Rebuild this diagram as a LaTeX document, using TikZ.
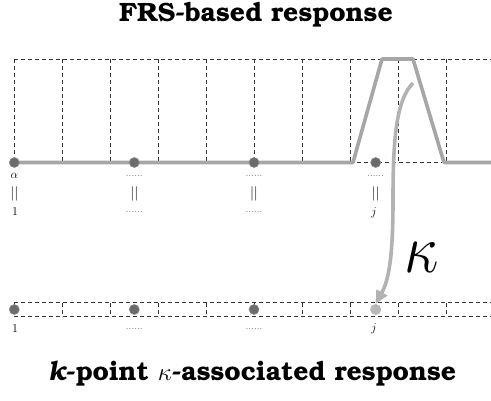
\documentclass[tikz,border=0pt]{standalone}
\usepackage[T1,TU]{fontenc}
\usetikzlibrary{arrows.meta}
\newcommand{\bkfont}{\fontencoding{T1}\fontfamily{pbk}\fontseries{b}\selectfont}
\newcommand{\sdots}{\textcolor{black!55}{\fontsize{10}{10}\selectfont......}}
\begin{document}
\begin{tikzpicture}[x=1pt,y=-1pt,
  gridline/.style={draw=black!80,line width=0.9pt,dash pattern=on 4pt off 3pt},
  resp/.style={draw=black!35,line width=3.6pt,line join=round},
  pdot/.style={circle,fill=black!58,draw=black!45,line width=0.6pt,minimum size=10pt,inner sep=0pt},
  ldot/.style={circle,fill=black!28,minimum size=11pt,inner sep=0pt},
  lbl/.style={inner sep=0pt,font=\fontsize{12}{12}\selectfont},
  bar/.style={inner sep=0pt,font=\fontsize{14}{14}\selectfont},
  ttl/.style={inner sep=0pt}]
\useasboundingbox (0,0) rectangle (491,400);
% titles
\node[ttl] (t1) at (256,15) {\bkfont\fontsize{26.5}{26.5}\selectfont FRS-based response};
\node[ttl] (t2) at (252,373) {\bkfont\fontsize{26.5}{26.5}\selectfont{\fontshape{it}\selectfont k}-point $\kappa$-associated response};
% top grid
\draw[gridline] (14.3,59) -- (491,59);
\draw[gridline] (14.3,162.5) -- (491,162.5);
\foreach \i in {0,...,9} {
  \draw[gridline] ({14.3+48.05*\i},59) -- ({14.3+48.05*\i},162.5);
}
% response line
\coordinate (r0) at (14.3,162.5);
\coordinate (r1) at (353,162.5);
\coordinate (r2) at (382,59);
\coordinate (r3) at (413,59);
\coordinate (r4) at (444,162.5);
\coordinate (r5) at (491,162.5);
\draw[resp] (r0) -- (r1) -- (r2) -- (r3) -- (r4) -- (r5);
% top dots
\node[pdot] (a) at (14.3,162.5) {};
\node[pdot] (b) at (134.3,162.5) {};
\node[pdot] (c) at (254,162.5) {};
\node[pdot] (d) at (375.7,162.5) {};
% top labels
\node[lbl] (la1) at (14.3,176) {$\alpha$};
\node[bar] (la2) at (14.3,194) {$||$};
\node[lbl] (la3) at (15,212) {1};
\node[lbl] (lb1) at (134.3,176) {\sdots};
\node[bar] (lb2) at (134.3,194) {$||$};
\node[lbl] (lb3) at (134.3,212) {\sdots};
\node[lbl] (lc1) at (254,176) {\sdots};
\node[bar] (lc2) at (254,194) {$||$};
\node[lbl] (lc3) at (254,212) {\sdots};
\node[lbl] (ld1) at (375.7,176) {\sdots};
\node[bar] (ld2) at (375.7,194) {$||$};
\node[lbl] (ld3) at (374,213) {$j$};
% bottom strip
\draw[gridline] (14.3,302.7) -- (491,302.7);
\draw[gridline] (14.3,316.7) -- (491,316.7);
\foreach \i in {0,...,9} {
  \draw[gridline] ({14.3+48.05*\i},302.7) -- ({14.3+48.05*\i},316.7);
}
\node[pdot] (e) at (14.3,309.5) {};
\node[pdot] (f) at (134.3,309.5) {};
\node[pdot] (g) at (254,309.5) {};
\node[ldot] (h) at (375.7,309.5) {};
\node[lbl] (le) at (15,329) {1};
\node[lbl] (lf) at (134.3,329) {\sdots};
\node[lbl] (lg) at (254,329) {\sdots};
\node[lbl] (lh) at (374,329) {$j$};
% kappa arrow
\coordinate (k0) at (413,83);
\draw[draw=black!30,line width=3.6pt,-{Triangle[length=13pt,width=12pt]}]
  (k0) .. controls (396,100) and (393,140) .. (393,200)
       .. controls (393,250) and (390,278) .. (h.north);
\node[inner sep=0pt,xscale=2.45,yscale=2.8] (kap) at (422,257) {\fontsize{24.88}{24.88}\selectfont$\kappa$};
\end{tikzpicture}
\end{document}
